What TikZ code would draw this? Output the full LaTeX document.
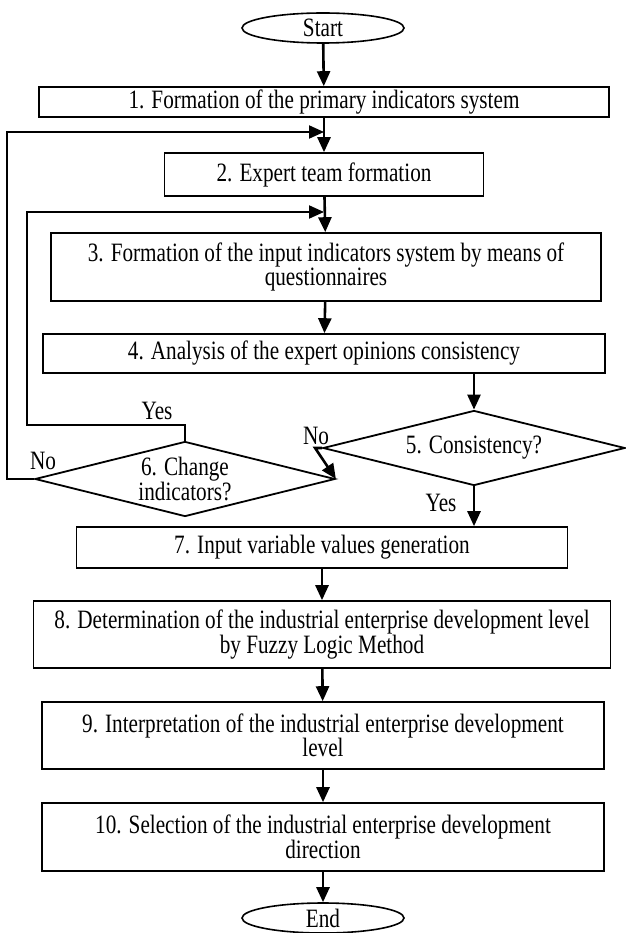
\documentclass[tikz,border=0pt]{standalone}
\usepackage{fontspec}
\setmainfont[FakeStretch=0.8]{Liberation Serif}
\usetikzlibrary{arrows.meta, shapes.geometric, positioning}
\tikzset{>={Triangle[length=15pt,width=13pt]}}

\begin{document}
\begin{tikzpicture}[x=1pt, y=-1pt, font=\fontsize{26.5}{24.5}\selectfont,
  box/.style={draw, line width=1.6pt, inner sep=0pt, align=center},
  term/.style={draw, ellipse, line width=1.6pt, inner sep=0pt, minimum width=162pt, minimum height=30pt},
  ask/.style={draw, diamond, line width=1.8pt, inner sep=0pt},
  arr/.style={->, line width=2.6pt}]

\useasboundingbox (0,0) rectangle (625,933);

\node[term] (start) at (323,28) {Start};
\node[box, minimum width=570pt, minimum height=30pt] (b1) at (324,102) {1. Formation of the primary indicators system};
\node[box, minimum width=319pt, minimum height=43pt] (b2) at (324,174.5) {2. Expert team formation};
\node[box, minimum width=550pt, minimum height=68pt] (b3) at (326,267) {3. Formation of the input indicators system by means of\\questionnaires};
\node[box, minimum width=562pt, minimum height=39pt] (b4) at (324,353.5) {4. Analysis of the expert opinions consistency};
\node[ask, minimum width=302pt, minimum height=75pt, label={[align=center]center:5. Consistency?}] (d5) at (474,448) {};
\node[ask, minimum width=300pt, minimum height=75pt, label={[align=center]center:6. Change\\indicators?}] (d6) at (185,479) {};
\node[box, minimum width=491pt, minimum height=41pt] (b7) at (322,547.5) {7. Input variable values generation};
\node[box, minimum width=577pt, minimum height=67pt] (b8) at (322,634.5) {8. Determination of the industrial enterprise development level\\by Fuzzy Logic Method};
\node[box, minimum width=562pt, minimum height=67pt] (b9) at (323,735.5) {9. Interpretation of the industrial enterprise development\\level};
\node[box, minimum width=562pt, minimum height=68pt] (b10) at (323,837) {10. Selection of the industrial enterprise development\\direction};
\node[term] (end) at (323,918) {End};

\coordinate (m1) at (324,132);
\coordinate (m2) at (324,212);

\node (yes6) at (157,411) {Yes};
\node (no6) at (43,461) {No};
\node (no5) at (316,436) {No};
\node (yes5) at (441,503) {Yes};

\draw [arr] (start)--(b1);
\draw [arr] (b1)--(b2);
\draw [arr] (b2)--(b3);
\draw [arr] (b3)--(b4);
\draw [arr] (b4.south -| d5.north)--(d5.north);
\draw [arr] (d5.south)--(d5.south |- b7.north);
\draw [arr] (b7)--(b8);
\draw [arr] (b8)--(b9);
\draw [arr] (b9)--(b10);
\draw [arr] (b10)--(end);

\draw [arr] (d5.west) -- ++(-7,0) -- (d6.east);
\draw [arr, line width=2pt] (d6.north) -- ++(0,-16) -- ++(-158,0) |- (m2);
\draw [arr, line width=2pt] (d6.west) -- ++(-27,0) |- (m1);

\end{tikzpicture}
\end{document}
